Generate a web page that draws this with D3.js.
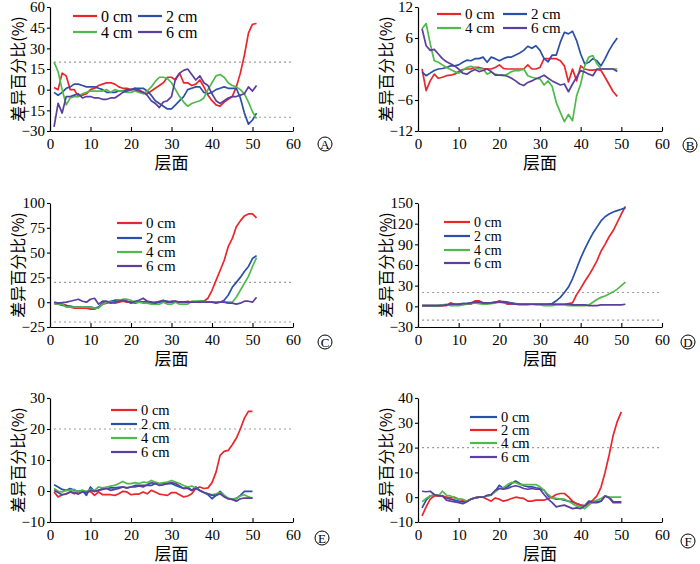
<!DOCTYPE html>
<html><head><meta charset="utf-8">
<script src="https://cdn.jsdelivr.net/npm/d3@7"></script>
<style>body{margin:0;background:#fff}</style>
</head><body><svg id="c" width="700" height="564" xmlns="http://www.w3.org/2000/svg"></svg>
<script>
// ---------- text ----------
const xTitle = "层面";
const yTitle = "差异百分比(%)";
const legendLabels = ["0 cm", "2 cm", "4 cm", "6 cm"];
const panelLetters = ["A", "B", "C", "D", "E", "F"];

// ---------- ticks ----------
const xTicks = [0, 10, 20, 30, 40, 50, 60];
const yTicksA = [-30, -15, 0, 15, 30, 45, 60];
const yTicksB = [-12, -6, 0, 6, 12];
const yTicksC = [-25, 0, 25, 50, 75, 100];
const yTicksD = [-30, 0, 30, 60, 90, 120, 150];
const yTicksE = [-10, 0, 10, 20, 30];
const yTicksF = [-10, 0, 10, 20, 30, 40];

// ---------- data (slice 1..n) ----------
const A_0cm = [1.5,0,12,10,0,0,-5,-4,-3,0, 1,3,4,5,5,4,2,1,1,0, 1,0,-2,-3,-1,1,3,5,9,9, 7,12,5,5,3,4,7,2,-4,-8, -11,-12,-9,-7,-5,2,12,25,41,47.5,48];
const A_2cm = [-2,-4,-2,1,2,4,4,3,2,2, 2,1,0,-2,-2,-2,-1,-1,0,0, 1,1,1,-1,-4,-8,-10,-12,-14,-14, -11,-8,-5,0,1,2,2,-2,-3,-2, 0,1,2,1,1,1,-6,-17,-25,-22,-17];
const A_4cm = [20,13,0,-11,-6,-5,-5,-3,-2,-1, -1,-1,-1,0,-2,0,-1,-1,-2,-2, -1,-2,-3,-1,2,6,9,9,8,5, 0,-5,-9,-12,-10,-9,-8,-6,0,5, 10,11,9,5,3,2,0,-3,-9,-16,-21];
const A_6cm = [-27,-10,-17,-5,-5,-4,-3,-6,-5,-5, -6,-6,-7,-7,-6,-6,-4,-2,-1,0, 0,-1,-2,-4,-8,-10,-13,-9,-8,-5, 8,12,14,15,11,7,10,5,3,-3, -8,-10,-8,-6,-5,-5,-4,-3,2,-1,3];

const B_0cm = [0,-4.2,-2.3,-1,-1.8,-1.6,-1.3,-1.2,-1,-0.5, -0.1,0,0,0.3,0.3,0.1,0,0,0.3,0.8, 0.1,0,0,0,0,0,0.8,0,0,0.3, 2,2,2,2,1.6,0.6,-2.5,0,-2.3,0.6, 0,-0.2,-0.2,-0.1,-0.3,-1.6,-3,-4.4,-5.3];
const B_2cm = [-0.6,-1.3,-0.8,-0.3,0,0.1,0.3,0.6,0.6,0.8, 1.3,1.7,1.6,2,2,2.3,1.3,2.3,2,1.6, 2,2.3,2.3,2.7,3.1,3.6,4.4,4,4.5,3.6, 2,1.4,2.7,2.7,5.2,7.1,6.8,7.3,5.5,2.9, 1,1.3,2,1.6,0.6,2,3.6,4.9,6];
const B_4cm = [7.8,8.8,4.9,1.6,1.3,0.8,0.3,-0.1,-0.5,-0.8, -0.3,0.3,0.5,0.3,0,0,-1,-0.6,-1,-1.2, -1.3,-1,-0.5,-0.3,-0.3,0,-1.3,-1.6,-1.8,-1.9, -3.1,-2.3,-3.4,-6.5,-8.4,-10.2,-8.8,-10,-5.2,-2.9, 0.6,2.3,2.6,1,0,0,0,0,0];
const B_6cm = [7.8,4.5,3.6,3.8,2.9,2,1.4,1,0.6,0, -0.8,-1,-0.5,-0.1,-0.5,-0.3,0,-0.5,-1.2,-1.2, -1.2,-1.4,-1.8,-2.3,-2.9,-3.2,-2.6,-2.3,-1.9,-1.6, -1.2,-1.8,-2.3,-2.7,-3.1,-2.9,-4.4,-2.9,-1.6,-0.3, -0.6,-1,-1.3,0,0,0,0,0,-0.5];

const C_0cm = [-1.5,-1.5,-2,-3,-5,-6,-6,-6,-6,-7, -7,-5,-2,-1,0,-1,0,1,0,0, -1,0,0,1,0,-1,0,1,0,0, 1,0,0,1,0,0,1,1,4,12, 22,32,42,56,64,76,82,87,89,89,85];
const C_2cm = [-1,-2,-3,-4,-4,-5,-5,-5,-5,-5, -6,-5,-1,0,1,2,2,2,1,0, 0,1,0,0,-1,0,0,1,1,0, 0,0,0,0,0,0,1,1,0,0, 0,0,2,7,15,20,25,31,36,44,47];
const C_4cm = [-1,-2,-2,-5,-5,-5,-5,-5,-5,-5, -6,-6,-2,0,0,0,2,3,3,2, 0,0,-1,-1,-2,-2,-2,0,-2,-2, 0,-2,-2,-2,1,1,1,1,0,0, 0,0,0,0,0,5,12,19,26,36,45];
const C_6cm = [0,-1,-0.5,0,1,2,3,1,0,3, 4,-2,1,1,-1,0,1,2,1,-1, 1,2,4,1,0,-1,1,2,0,1, 1,0,0,0,0,0,0,0,0,0, -1,0,0,-1,-1,-2,-1,1,1,0,5];

const D_0cm = [1,1,1,1,1,1,1,5,3,3, 3,3,3,8,8,5,5,5,5,8, 6,3,3,3,3,3,3,3,3,3, 3,3,3,3,3,3,4,5,17,26, 36,45,55,66,80,90,101,110,122,134,145];
const D_2cm = [1,1,1,1,1,2,2,3,3,3, 4,4,5,6,6,5,5,5,6,7, 7,6,5,4,3,3,3,3,3,3, 3,3,4,8,13,20,28,40,55,70, 83,95,106,115,124,130,134,137,139,141,143];
const D_4cm = [1,1,1,1,1,2,3,1,1,1, 2,3,4,5,4,3,3,4,5,6, 5,5,4,3,2,2,2,3,2,2, 1,1,1,2,2,2,1,1,1,1, 1,2,6,10,13,15,18,21,25,30,35];
const D_6cm = [1,1,1,1,1,1,2,3,3,3, 4,4,5,6,6,5,5,5,6,6, 6,5,4,3,3,3,3,3,3,3, 3,3,3,3,3,3,3,2,2,2, 2,1,1,1,2,2,2,2,2,2,3];

const E_0cm = [-0.3,-1.9,-1.2,-1,-0.3,-0.9,-0.5,-0.3,-0.3,-0.1, -1.4,-0.3,-1.2,-1.2,-1.2,-1.4,-0.9,-0.1,-0.3,-1.2, -1,-1,-0.3,-0.9,0.2,-0.3,-1,-1.2,-1.4,-0.5, -0.5,-1.2,-1.9,-1.6,-0.9,0.8,1.3,0.8,1,2.7, 6.1,11.5,12.8,13.1,14.9,17,20,23.5,25.7,25.7];
const E_2cm = [2,1.3,0.5,0.2,0.8,0.2,-0.1,0.2,-1.4,1.3, -0.1,0.2,0.8,0.8,1,1,1.2,1.3,1,1.3, 1.8,1.8,1.8,1.8,1.8,2.4,2.4,2.4,2.4,2.4, 1.8,1.3,0.8,1.3,0.2,1.3,0.2,-0.5,-1.2,-2.5, -1.4,-0.1,-1.4,-2.5,-2.7,-2.5,-1.4,-0.1,-0.1,-0.1];
const E_4cm = [0.8,-0.1,-0.3,0.2,0.2,0.5,-0.3,0.2,-0.1,0.5, 0.2,1.3,1,1.3,1.6,1.8,2.4,3.1,2.4,2.4, 2.7,2.4,2.9,2.7,3.4,2.9,2.4,2.7,2.9,3.4, 2.9,2.4,1.8,1.3,1.6,1,0.2,-0.5,-0.9,-1.2, -0.9,-0.5,-1.4,-2.3,-2.7,-2.3,-1.6,-1.2,-1.9,-2.3];
const E_6cm = [0.2,-0.5,-1.2,-0.9,-0.3,-0.5,-1,-0.3,-0.5,0.2, -0.1,0.2,0.5,0.8,0.2,0.5,0.8,1.3,1,1.3, 1.3,1.6,1.3,2,2.7,2.4,1.8,2,2.4,2.7, 2.4,1.6,0.8,0.8,0.2,0.8,0.2,-0.5,-0.9,-1.4, -1.4,-0.9,-1.9,-2.5,-2.7,-3.3,-2.5,-2.3,-2.3,-2.3];

const F_0cm = [-4.3,-1.2,0.5,0.8,0.8,0.5,-0.3,-0.8,-1.2,-1.6, -1.9,-1.6,-0.8,-0.3,0,0,0.5,0.8,2.4,4.8, 3.5,4.2,5.5,6.5,5.5,4.6,4.2,4.2,3.8,3.5, 2.8,0.5,-0.3,-0.8,-0.8,-1.2,-1.6,-1.9,-2.6,-3.2, -3.5,-1.9,-1.6,-1.9,-1.6,0.5,0.1,-1.9,-1.9,-1.9];
const F_2cm = [-7.5,-3.9,-0.8,0.5,0.5,0.5,0.1,-0.3,0,-0.8, -1.2,-1.6,-0.8,-0.3,0,0,-0.8,-1.6,-0.3,-0.8, -1.6,-1.2,-0.5,0,-0.3,-0.5,-1.6,-1.6,-1.2,-1.2, -1.2,-0.5,0.1,1.1,1.5,1.5,0.1,-1.6,-2.6,-3.2, -3.5,-2.6,-1.2,0.5,4,10,17,25,30.5,34.4];
const F_4cm = [-1.9,-0.5,0.5,1.1,0.5,2.4,0.8,0.5,-0.3,-0.8, -0.8,-1.6,-0.8,-0.3,0,0,0.5,1.1,2.2,3.5, 3.8,5.1,5.9,5.9,5.1,5.1,5.1,5.1,5.1,4.2, 2.8,1.1,-0.3,-0.5,-0.8,-0.8,-1.6,-2.6,-3.5,-3.9, -4.6,-3.2,-1.9,-1.2,-0.5,0.5,0,0,0,0];
const F_6cm = [2.4,2.2,2.4,1.1,0.5,0.5,-1.2,-1.6,-1.9,-2.2, -2.6,-1.9,-0.8,-0.3,0,0,0.8,1.1,2.8,3.5, 3.2,3.5,4.2,4.6,4.2,3.5,3.2,3.5,3.2,3.2, 1.1,-0.8,-2.2,-3.9,-3.5,-3.2,-3.9,-4.6,-4.3,-4.6, -3.5,-1.6,-2.2,-2.2,-1.6,0.5,-0.3,-2.2,-2.2,-2.2];

// ---------- style ----------
const RED = "#e8262b", BLUE = "#2b4fa6", GREEN = "#4fba4b", PURPLE = "#5b3e9e";
const serif = "'Liberation Serif','Times New Roman',serif";
const cjk = "'Noto Sans CJK SC','Noto Sans',sans-serif";

const colX = [{x0: 50, x1: 293}, {x0: 418, x1: 662}];
const rowY = [{y0: 7, y1: 131}, {y0: 203, y1: 327}, {y0: 398, y1: 522}];

const panels = [
  {col:0,row:0,ticks:yTicksA,series:[A_0cm,A_2cm,A_4cm,A_6cm],colors:[RED,BLUE,GREEN,PURPLE],ref:[20,-20],
   legend:{pos:[[73,16],[138,16],[73,32],[138,32]],len:24,fs:16}, letter:[325,144]},
  {col:1,row:0,ticks:yTicksB,series:[B_0cm,B_2cm,B_4cm,B_6cm],colors:[RED,BLUE,GREEN,PURPLE],ref:[],
   legend:{pos:[[437,14],[503,14],[437,28],[503,28]],len:24,fs:15}, letter:[690,145]},
  {col:0,row:1,ticks:yTicksC,series:[C_0cm,C_2cm,C_4cm,C_6cm],colors:[RED,BLUE,GREEN,PURPLE],ref:[20,-20],
   legend:{pos:[[117,223],[117,238],[117,252],[117,266]],len:25,fs:15}, letter:[325,342]},
  {col:1,row:1,ticks:yTicksD,series:[D_0cm,D_2cm,D_4cm,D_6cm],colors:[RED,BLUE,GREEN,PURPLE],ref:[20,-20],
   legend:{pos:[[444,222],[444,236],[444,250],[444,263]],len:26,fs:14}, letter:[688,342]},
  {col:0,row:2,ticks:yTicksE,series:[E_0cm,E_2cm,E_4cm,E_6cm],colors:[RED,BLUE,GREEN,PURPLE],ref:[20],
   legend:{pos:[[111,410],[111,424],[111,438],[111,452]],len:26,fs:14.5}, letter:[322,538]},
  {col:1,row:2,ticks:yTicksF,series:[F_0cm,F_2cm,F_4cm,F_6cm],colors:[BLUE,RED,GREEN,PURPLE],ref:[20],
   legend:{pos:[[470,417],[470,430],[470,443],[470,457]],len:27,fs:14.5}, letter:[688,541]}
];

const svg = d3.select("#c");
svg.append("rect").attr("width",700).attr("height",564).attr("fill","#fff");

panels.forEach((p, pi) => {
  const {x0, x1} = colX[p.col];
  const {y0, y1} = rowY[p.row];
  const x = d3.scaleLinear().domain([0, 60]).range([x0, x1]);
  const y = d3.scaleLinear().domain(d3.extent(p.ticks)).range([y1, y0]);
  const g = svg.append("g");

  // reference dashed lines
  p.ref.forEach(r => {
    g.append("line").attr("x1", x(1)).attr("x2", x(60)).attr("y1", y(r)).attr("y2", y(r))
      .attr("stroke", "#9a9a9a").attr("stroke-width", 1.1).attr("stroke-dasharray", "2,3");
  });

  // series lines
  const line = d3.line().x((d, i) => x(i + 1)).y(d => y(d));
  p.series.forEach((s, si) => {
    g.append("path").datum(s).attr("d", line).attr("fill", "none")
      .attr("stroke", p.colors[si]).attr("stroke-width", 1.7).attr("stroke-linejoin", "round");
  });

  // axes
  const xa = g.append("g").attr("transform", `translate(0,${y1})`)
    .call(d3.axisBottom(x).tickValues(xTicks).tickSizeInner(-4).tickSizeOuter(0).tickPadding(7));
  const ya = g.append("g").attr("transform", `translate(${x0},0)`)
    .call(d3.axisLeft(y).tickValues(p.ticks).tickSizeInner(3).tickSizeOuter(0).tickPadding(2));
  [xa, ya].forEach(a => {
    a.select(".domain").attr("stroke", "#000").attr("stroke-width", 1.2);
    a.selectAll(".tick line").attr("stroke", "#000").attr("stroke-width", 1.1);
    a.selectAll("text").attr("font-family", serif).attr("font-size", 15).attr("fill", "#000");
  });

  // axis titles
  g.append("text").attr("x", (x0 + x1) / 2).attr("y", y1 + 38).attr("text-anchor", "middle")
    .attr("font-family", cjk).attr("font-size", 17).attr("fill", "#000").text(xTitle);
  const tx = x0 - 33, ty = (y0 + y1) / 2;
  g.append("text").attr("transform", `translate(${tx},${ty}) rotate(-90)`).attr("text-anchor", "middle")
    .attr("dominant-baseline", "central")
    .attr("font-family", cjk).attr("font-size", 16).attr("fill", "#000").text(yTitle);

  // legend
  p.legend.pos.forEach((pos, li) => {
    g.append("line").attr("x1", pos[0]).attr("x2", pos[0] + p.legend.len).attr("y1", pos[1]).attr("y2", pos[1])
      .attr("stroke", p.colors[li]).attr("stroke-width", 2.2);
    g.append("text").attr("x", pos[0] + p.legend.len + 4).attr("y", pos[1]).attr("dominant-baseline", "central")
      .attr("font-family", serif).attr("font-size", p.legend.fs).attr("fill", "#000").text(legendLabels[li]);
  });

  // panel letter in circle
  g.append("circle").attr("cx", p.letter[0]).attr("cy", p.letter[1]).attr("r", 7)
    .attr("fill", "none").attr("stroke", "#000").attr("stroke-width", 1);
  g.append("text").attr("x", p.letter[0]).attr("y", p.letter[1] + 0.5).attr("text-anchor", "middle")
    .attr("dominant-baseline", "central").attr("font-family", serif).attr("font-size", 13)
    .attr("fill", "#000").text(panelLetters[pi]);
});
</script>
</body></html>
